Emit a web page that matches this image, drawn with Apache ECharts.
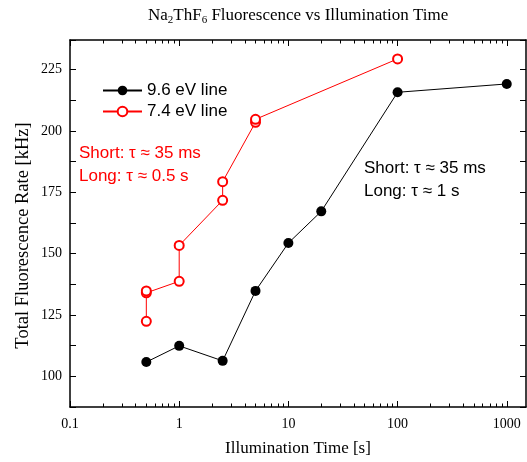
<!DOCTYPE html>
<html>
<head>
<meta charset="utf-8">
<script src="https://cdn.jsdelivr.net/npm/echarts@6/dist/echarts.min.js"></script>
<style>
  html, body { margin: 0; padding: 0; background: #fff; }
  #chart { width: 527px; height: 462px; }
</style>
</head>
<body>
<div id="chart"></div>
<script>
// Illumination times [s] and fluorescence rates [kHz]
const line96Time = [0.5, 1, 2.5, 5, 10, 20, 100, 1000];
const line96Rate = [105.8, 112.4, 106.3, 134.8, 154.3, 167.2, 215.7, 219.1];

const line74Time = [0.5, 0.5, 0.5, 1, 1, 2.5, 2.5, 5, 5, 100];
const line74Rate = [122.4, 134.0, 134.8, 138.7, 153.3, 171.7, 179.3, 203.5, 204.7, 229.3];

const seriesNames = ['9.6 eV line', '7.4 eV line'];

// axis ticks (time in seconds)
const xMajorTicks = [0.1, 1, 10, 100, 1000];
const xMinorTicks = [];
[0.1, 1, 10, 100].forEach(d => { for (let k = 2; k <= 9; k++) xMinorTicks.push(+(d * k).toPrecision(6)); });
const yTickLabels = [100, 125, 150, 175, 200, 225];

const serif = '"Liberation Serif", "Times New Roman", serif';
const sans = '"Liberation Sans", Arial, sans-serif';

const X_MIN = 0.1, X_MAX = 1500;
const Y_MIN = 87.5, Y_MAX = 237;

function pairs(xs, ys) { return xs.map((x, i) => [x, ys[i]]); }

// Decade tick axes live in exponent space so ticks can sit at 2..9 × 10^n
const E_MIN = Math.log10(X_MIN), E_MAX = Math.log10(X_MAX);
const expMajor = xMajorTicks.map(Math.log10);
const expMinor = xMinorTicks.map(Math.log10);

function tickAxis(position, ticks, len, withLabels) {
  return {
    type: 'value', min: E_MIN, max: E_MAX, position: position,
    axisLine: { show: false },
    axisTick: { show: true, inside: true, length: len, customValues: ticks, lineStyle: { color: '#000', width: 1 } },
    axisLabel: {
      show: withLabels, customValues: expMajor, margin: 10,
      fontFamily: serif, fontSize: 14, color: '#000',
      formatter: v => String(+Math.pow(10, v).toPrecision(6))
    },
    splitLine: { show: false }
  };
}

function yAxis(position, withLabels) {
  return {
    type: 'value', min: Y_MIN, max: Y_MAX, interval: 12.5, position: position,
    axisLine: { show: true, onZero: false, lineStyle: { color: '#000', width: 1.5 } },
    axisTick: { show: true, inside: true, length: 6, lineStyle: { color: '#000', width: 1 } },
    axisLabel: {
      show: withLabels, margin: 8, fontFamily: serif, fontSize: 14, color: '#000',
      formatter: v => yTickLabels.indexOf(v) >= 0 ? String(v) : ''
    },
    splitLine: { show: false }
  };
}

const xAxes = [
  {
    // data axis (log scale)
    type: 'log', logBase: 10, min: X_MIN, max: X_MAX, position: 'bottom',
    axisLine: { show: true, onZero: false, lineStyle: { color: '#000', width: 1.5 } },
    axisTick: { show: false }, axisLabel: { show: false }, splitLine: { show: false },
    name: 'Illumination Time [s]', nameLocation: 'middle', nameGap: 33,
    nameTextStyle: { fontFamily: serif, fontSize: 17, color: '#000' }
  },
  tickAxis('bottom', expMajor, 6, true),
  tickAxis('bottom', expMinor, 3.5, false),
  Object.assign(tickAxis('top', expMajor, 6, false), {
    axisLine: { show: true, onZero: false, lineStyle: { color: '#000', width: 1.5 } }
  }),
  tickAxis('top', expMinor, 3.5, false)
];

const yAxes = [
  Object.assign(yAxis('left', true), {
    name: 'Total Fluorescence Rate [kHz]', nameLocation: 'middle', nameGap: 37, nameMoveOverlap: false,
    nameTextStyle: { fontFamily: serif, fontSize: 18.5, color: '#000', padding: [0, 24, 0, 0] }
  }),
  yAxis('right', false)
];

const chart = echarts.init(document.getElementById('chart'), null, { renderer: 'canvas' });
chart.setOption({
  animation: false,
  backgroundColor: '#fff',
  title: {
    left: 143, top: 0,
    text: '{a|Na}{s|2}{a|ThF}{s|6}{a| Fluorescence vs Illumination Time}',
    textStyle: {
      fontWeight: 'normal',
      rich: {
        a: { fontFamily: serif, fontSize: 17, fontWeight: 'normal', color: '#000', lineHeight: 22 },
        s: { fontFamily: serif, fontSize: 11, fontWeight: 'normal', color: '#000', lineHeight: 22, padding: [9, 0, 0, 0] }
      }
    }
  },
  grid: { left: 70, right: 1, top: 40, bottom: 55, containLabel: false },
  xAxis: xAxes,
  yAxis: yAxes,
  legend: {
    orient: 'vertical', left: 102, top: 82, padding: 0, itemGap: 4,
    itemWidth: 39, itemHeight: 12, itemTextGap: 6,
    textStyle: { fontFamily: sans, fontSize: 17, color: '#000' },
    data: seriesNames
  },
  series: [
    {
      name: seriesNames[0], type: 'line', xAxisIndex: 0, yAxisIndex: 0,
      data: pairs(line96Time, line96Rate),
      symbol: 'circle', symbolSize: 10,
      itemStyle: { color: '#000' },
      lineStyle: { color: '#000', width: 1 },
      z: 3
    },
    {
      name: seriesNames[1], type: 'line', xAxisIndex: 0, yAxisIndex: 0,
      data: pairs(line74Time, line74Rate),
      symbol: 'emptyCircle', symbolSize: 9,
      itemStyle: { color: '#ff0000', borderColor: '#ff0000', borderWidth: 1 },
      lineStyle: { color: '#ff0000', width: 1 },
      z: 4
    }
  ],
  graphic: [
    { type: 'text', left: 79, top: 142, style: { text: 'Short: τ ≈ 35 ms\nLong: τ ≈ 0.5 s', fill: '#ff0000', font: '17px ' + sans, lineHeight: 23 } },
    { type: 'text', left: 364, top: 157, style: { text: 'Short: τ ≈ 35 ms\nLong: τ ≈ 1 s', fill: '#000', font: '17px ' + sans, lineHeight: 23 } }
  ]
});
</script>
</body>
</html>
